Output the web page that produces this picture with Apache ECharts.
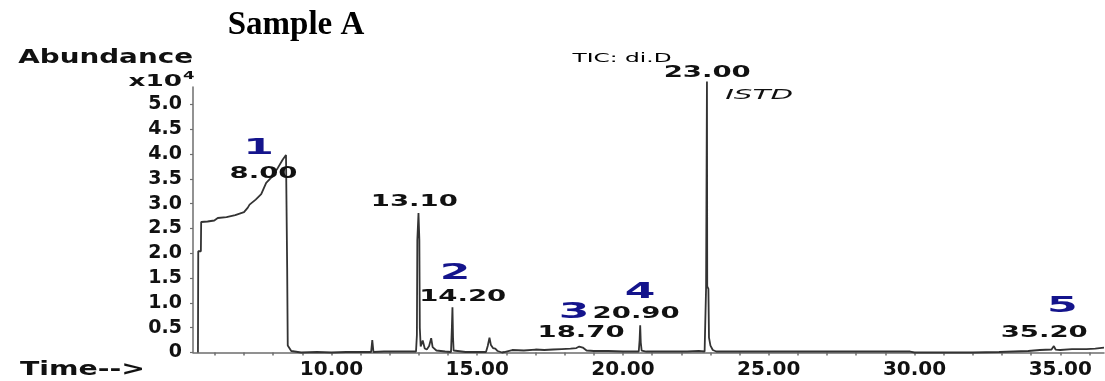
<!DOCTYPE html>
<html>
<head>
<meta charset="utf-8">
<script src="https://cdn.jsdelivr.net/npm/echarts@6/dist/echarts.min.js"></script>
<style>
html,body{margin:0;padding:0;background:#fff;}
#chart{width:1105px;height:381px;}
</style>
</head>
<body>
<div id="chart"></div>
<script>
// ---- data ----
const retentionTimes = [
  5.42, 5.43, 5.52, 5.53, 5.75, 5.98, 6.10, 6.16, 6.40, 6.70, 7.00, 7.13, 7.19, 7.40, 7.59, 7.76, 7.99, 8.16, 8.33, 8.44,
  8.48, 8.50, 8.62, 8.96, 9.5, 10.0, 10.5, 11.0, 11.36, 11.40, 11.44, 11.8, 12.4, 12.90, 12.93, 12.945, 12.985, 13.015, 13.03, 13.06,
  13.13, 13.20, 13.27, 13.35, 13.42, 13.47, 13.60, 13.90, 14.10, 14.13, 14.15, 14.17, 14.19, 14.6, 15.0, 15.30, 15.36, 15.42, 15.47, 15.54,
  15.62, 15.70, 15.85, 15.93, 15.95, 16.2, 16.6, 17.0, 17.3, 17.6, 17.9, 18.2, 18.4, 18.50, 18.56, 18.62, 18.75, 19.0, 19.5, 20.0,
  20.54, 20.57, 20.59, 20.61, 20.64, 20.8, 21.5, 22.2, 22.6, 22.80, 22.84, 22.85, 22.87, 22.88, 22.89, 22.93, 22.95, 23.00, 23.08, 23.2,
  24.0, 25.0, 26.0, 27.0, 28.0, 29.0, 29.85, 30.0, 31.0, 32.0, 32.9, 33.4, 33.9, 34.3, 34.70, 34.78, 34.84, 35.0, 35.4, 35.9,
  36.2, 36.5
];
const abundance = [
  0.00, 2.04, 2.04, 2.63, 2.64, 2.66, 2.71, 2.69, 2.73, 2.77, 2.83, 2.92, 2.98, 3.08, 3.19, 3.42, 3.56, 3.72, 3.89, 3.98,
  1.72, 0.14, 0.03, 0.00, 0.01, 0.00, 0.01, 0.01, 0.01, 0.25, 0.01, 0.02, 0.02, 0.02, 0.35, 2.26, 2.81, 2.26, 0.50, 0.12,
  0.24, 0.08, 0.06, 0.13, 0.29, 0.11, 0.04, 0.02, 0.01, 0.50, 0.91, 0.30, 0.04, 0.01, 0.01, 0.01, 0.13, 0.30, 0.15, 0.09,
  0.08, 0.03, 0.00, 0.01, 0.05, 0.05, 0.04, 0.06, 0.05, 0.06, 0.07, 0.08, 0.09, 0.12, 0.16, 0.10, 0.04, 0.03, 0.03, 0.02,
  0.02, 0.25, 0.55, 0.20, 0.04, 0.02, 0.02, 0.02, 0.03, 0.02, 0.06, 1.30, 1.33, 5.46, 1.33, 1.28, 0.30, 0.14, 0.05, 0.02,
  0.02, 0.02, 0.02, 0.02, 0.02, 0.02, 0.02, 0.00, 0.00, 0.00, 0.01, 0.02, 0.03, 0.05, 0.06, 0.13, 0.06, 0.05, 0.07, 0.07,
  0.08, 0.10
];

// peak annotations (text, position in axis units, kind)
const annotTexts  = ['1', '8.00', '13.10', '2', '14.20', '3', '18.70', '4', '20.90', '23.00', 'ISTD', '5', '35.20'];
const annotTimes  = [7.50, 7.67, 12.84, 14.24, 14.50, 18.32, 18.56, 20.59, 20.45, 22.89, 24.67, 35.07, 34.45];
const annotLevels = [4.10, 3.60, 3.04, 1.59, 1.125, 0.81, 0.40, 1.21, 0.78, 5.63, 5.19, 0.93, 0.40];
const annotKinds  = ['id', 'rt', 'rt', 'id', 'rt', 'id', 'rt', 'id', 'rt', 'rt', 'note', 'id', 'rt'];

// axis ticks
const xTickValues = [10, 15, 20, 25, 30, 35];
const xTickLabels = ['10.00', '15.00', '20.00', '25.00', '30.00', '35.00'];
const xMinorTicks = [6, 7, 8, 9, 10, 11, 12, 13, 14, 15, 16, 17, 18, 19, 20, 21, 22, 23, 24, 25, 26, 27, 28, 29, 30, 31, 32, 33, 34, 35, 36];
const yTickValues = [0, 0.5, 1, 1.5, 2, 2.5, 3, 3.5, 4, 4.5, 5];
const yTickLabels = ['0', '0.5', '1.0', '1.5', '2.0', '2.5', '3.0', '3.5', '4.0', '4.5', '5.0'];

const traceData = retentionTimes.map((t, i) => [t, abundance[i]]);
const annotData = annotTimes.map((t, i) => [t, annotLevels[i]]);

const looks = {
  id:   {font: 'bold 21px "DejaVu Sans"', color: '#14148c', scaleX: 2.1},
  rt:   {font: 'bold 16px "DejaVu Sans"', color: '#111', scaleX: 1.72},
  note: {font: 'italic 14px "DejaVu Sans"', color: '#111', scaleX: 2.1}
};

const chart = echarts.init(document.getElementById('chart'), null, {renderer: 'canvas'});

function txt(x, y, text, font, align, scaleX, fill) {
  return {
    type: 'text', x: x, y: y, scaleX: scaleX, silent: true,
    style: {text: text, font: font, fill: fill || '#000', align: align, textAlign: align,
            verticalAlign: 'middle', textVerticalAlign: 'middle'}
  };
}

chart.setOption({
  animation: false,
  backgroundColor: '#fff',
  grid: {left: 193, top: 87, width: 911, bottom: 28.5, containLabel: false},
  xAxis: {
    type: 'value', min: 5.25, max: 36.5,
    axisLine: {show: true, onZero: false, lineStyle: {color: '#6e6e6e', width: 1.5}},
    axisTick: {show: true, customValues: xMinorTicks, length: 3, lineStyle: {color: '#6e6e6e', width: 1.5}},
    axisLabel: {
      customValues: xTickValues, margin: 7,
      formatter: v => xTickLabels[xTickValues.indexOf(v)] ?? '',
      color: '#111', fontFamily: 'DejaVu Sans', fontWeight: 'bold', fontSize: 20
    },
    splitLine: {show: false}
  },
  yAxis: {
    type: 'value', min: 0, max: 5.35,
    axisLine: {show: true, lineStyle: {color: '#6e6e6e', width: 1.5}},
    axisTick: {show: true, customValues: yTickValues, length: 3, lineStyle: {color: '#6e6e6e', width: 1.2}},
    axisLabel: {
      customValues: yTickValues, margin: 11,
      formatter: v => yTickLabels[yTickValues.indexOf(v)] ?? '',
      color: '#111', fontFamily: 'DejaVu Sans', fontWeight: 'bold', fontSize: 19
    },
    splitLine: {show: false}
  },
  series: [
    {
      type: 'line', data: traceData, showSymbol: false, symbol: 'none', clip: false,
      lineStyle: {color: '#333', width: 1.8}, silent: true, z: 3
    },
    {
      type: 'custom', coordinateSystem: 'cartesian2d', data: annotData, clip: false, silent: true, z: 10,
      renderItem: function (params, api) {
        const i = params.dataIndex;
        const p = api.coord([api.value(0), api.value(1)]);
        const lk = looks[annotKinds[i]];
        return txt(p[0], p[1], annotTexts[i], lk.font, 'center', lk.scaleX, lk.color);
      }
    }
  ],
  graphic: [
    txt(296, 25, 'Sample A', 'bold 33px "Liberation Serif"', 'center', 1, '#000'),
    txt(193, 58, 'Abundance', 'bold 20px "DejaVu Sans"', 'right', 1.39, '#111'),
    txt(182, 82, 'x10', 'bold 15px "DejaVu Sans"', 'right', 1.75, '#111'),
    txt(183, 76, '4', 'bold 11px "DejaVu Sans"', 'left', 1.5, '#111'),
    txt(20, 370.5, 'Time-->', 'bold 19px "DejaVu Sans"', 'left', 1.49, '#111'),
    txt(622, 59, 'TIC: di.D', '12px "DejaVu Sans"', 'center', 1.94, '#000')
  ]
});
</script>
</body>
</html>
